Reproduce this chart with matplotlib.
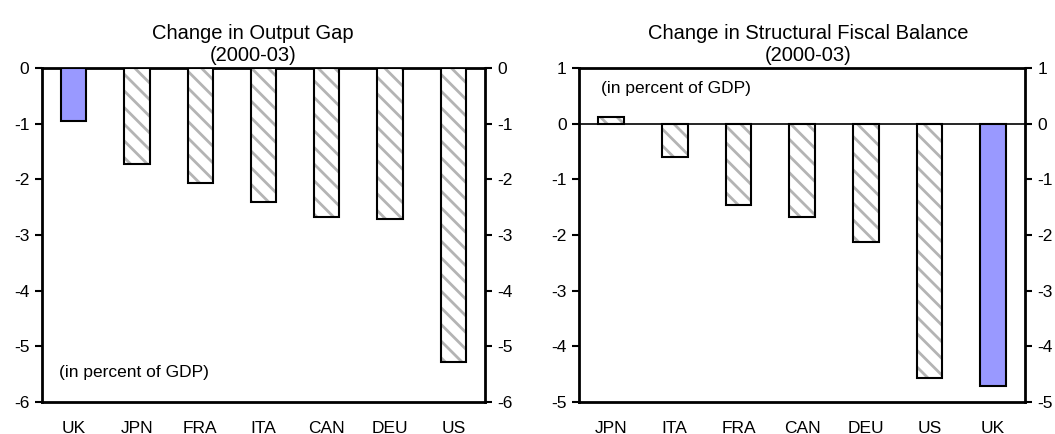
import matplotlib
matplotlib.use("Agg")
import matplotlib.pyplot as plt

plt.rcParams['font.family'] = ['Liberation Sans', 'DejaVu Sans']
plt.rcParams['hatch.linewidth'] = 2.0

# Change in output gap, 2000-03
gap_countries = ["UK", "JPN", "FRA", "ITA", "CAN", "DEU", "US"]
gap_values = [-0.95, -1.73, -2.07, -2.41, -2.67, -2.71, -5.28]

# Change in structural fiscal balance, 2000-03
fiscal_countries = ["JPN", "ITA", "FRA", "CAN", "DEU", "US", "UK"]
fiscal_values = [0.12, -0.60, -1.46, -1.68, -2.13, -4.58, -4.72]

gap_ticks = [0, -1, -2, -3, -4, -5, -6]
fiscal_ticks = [1, 0, -1, -2, -3, -4, -5]

HIGHLIGHT = "UK"
BLUE = "#9999ff"
HATCH_GRAY = "#b4b4b4"
FS = 12.5
TITLE_FS = 14.5
BAR_W = 0.4

W, H = 1055, 434
fig = plt.figure(figsize=(W / 100, H / 100), dpi=100)


def panel(rect, countries, values, ticks, title, title_x, note_xy):
    ax = fig.add_axes(rect)
    x = list(range(len(countries)))
    for i, (c, v) in enumerate(zip(countries, values)):
        if c == HIGHLIGHT:
            ax.bar(i, v, width=BAR_W, color=BLUE, edgecolor="black",
                   linewidth=1.5, zorder=3)
        else:
            # grey diagonal hatching, then a black outline on top
            ax.bar(i, v, width=BAR_W, color="white", edgecolor=HATCH_GRAY,
                   linewidth=0, hatch="\\\\", zorder=3)
            ax.bar(i, v, width=BAR_W, fill=False, edgecolor="black",
                   linewidth=1.5, zorder=4)
    ax.set_xlim(-0.5, len(countries) - 0.5)
    ax.set_ylim(min(ticks), max(ticks))
    ax.set_yticks(ticks)
    ax.set_yticklabels([str(t) for t in ticks])
    ax.set_xticks(x)
    ax.set_xticklabels(countries)
    ax.tick_params(axis="x", length=0, pad=14, labelsize=FS)
    ax.tick_params(axis="y", direction="out", length=5, width=1.5, pad=4,
                   labelsize=FS, left=True, right=True,
                   labelleft=True, labelright=True)
    for s in ax.spines.values():
        s.set_linewidth(2)
    ax.axhline(0, color="black", linewidth=1.2, zorder=5)
    ax.set_title(title + "\n(2000-03)", fontsize=TITLE_FS, pad=5,
                 linespacing=1.25, x=title_x)
    ax.text(note_xy[0], note_xy[1], "(in percent of GDP)", transform=ax.transAxes,
            fontsize=FS, va="center", ha="left")
    return ax


panel([42 / W, 32.3 / H, 443 / W, 333.4 / H], gap_countries, gap_values, gap_ticks,
      "Change in Output Gap", 0.477, (0.038, 0.089))
panel([579.3 / W, 32.3 / H, 445.7 / W, 333.4 / H], fiscal_countries, fiscal_values,
      fiscal_ticks, "Change in Structural Fiscal Balance", 0.513, (0.049, 0.94))

fig.savefig("out.png", dpi=100)
